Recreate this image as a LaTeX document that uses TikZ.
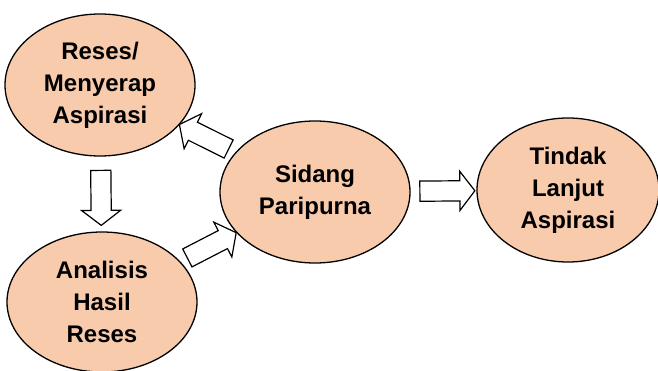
\documentclass[tikz,border=0pt]{standalone}
\usepackage{fontspec}
\setmainfont{Liberation Sans}
\usetikzlibrary{shapes.geometric,shapes.arrows}
\definecolor{cpeach}{RGB}{248,203,173}
\tikzset{
  bubble/.style={ellipse,draw=black,line width=1.3pt,fill=cpeach,
    minimum width=190pt,minimum height=142pt,inner sep=0pt,align=center,
    font=\fontsize{24}{32}\selectfont\bfseries},
  % hollow block arrows between the stages
  blockarr/.style={single arrow,draw=black,line width=1.2pt,fill=white,
    minimum height=55pt,inner sep=9.5pt,
    single arrow head extend=9.5pt,single arrow tip angle=105,
    sloped,allow upside down}
}
\begin{document}
\begin{tikzpicture}[x=1pt,y=-1pt]
  \useasboundingbox (0,0) rectangle (658,371);
  \node[bubble] (res) at (100,85) {Reses/\\Menyerap\\Aspirasi};
  \node[bubble,minimum height=140pt] (ana) at (102,302) {Analisis\\Hasil\\Reses};
  \node[bubble] (sid) at (315,192) {Sidang\\Paripurna};
  \node[bubble,minimum width=182pt,minimum height=144pt] (tin) at (568,190)
    {Tindak\\Lanjut\\Aspirasi};
  \path (res) -- node[blockarr] {} (ana);
  \path (ana) -- node[blockarr] {} (sid);
  \path (sid) -- node[blockarr] {} (res);
  \path (sid) -- node[blockarr] {} (tin);
\end{tikzpicture}
\end{document}
